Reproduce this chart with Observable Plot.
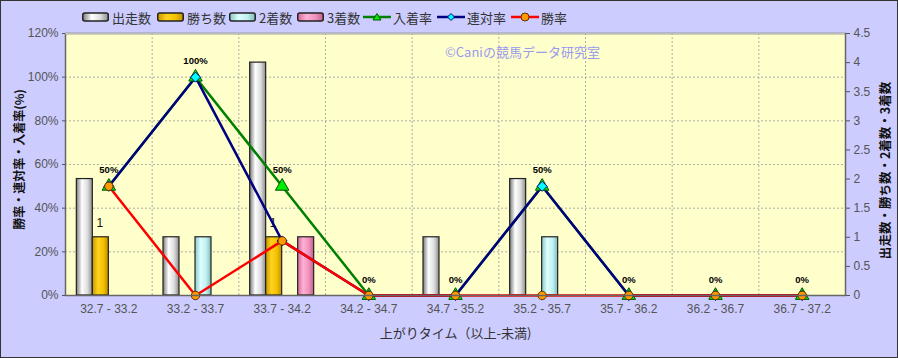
<!DOCTYPE html>
<html>
<head>
<meta charset="utf-8">
<script src="https://cdn.jsdelivr.net/npm/d3@7"></script>
<script src="https://cdn.jsdelivr.net/npm/@observablehq/plot@0.6"></script>
<style>
  html, body { margin: 0; padding: 0; background: #ccccff; }
  #wrap { position: relative; width: 898px; height: 358px; overflow: hidden;
          font-family: "Liberation Sans", "Noto Sans CJK JP", sans-serif; }
  #border { position: absolute; left: 0; top: 0; width: 896px; height: 356px;
            border: 1px solid #333; pointer-events: none; }
  #legend { position: absolute; left: 0; top: 7px; height: 20px; font-size: 13px; color: #333;
            font-family: "Noto Sans CJK JP", sans-serif; }
  .item { position: absolute; top: 0; white-space: nowrap; display: flex; align-items: center; height: 20px; }
  .item svg { margin-right: 2px; }
  #mark { position: absolute; left: 445px; top: 42px; font-size: 13px; color: #9a9aee;
          font-family: "Noto Sans CJK JP", sans-serif; white-space: nowrap; }
</style>
</head>
<body>
<div id="wrap">
  <div id="chart"></div>
  <div id="legend"></div>
  <div id="mark">©Caniの競馬データ研究室</div>
  <div id="border"></div>
</div>
<script>
// ---- data ----
const categories = ["32.7 - 33.2", "33.2 - 33.7", "33.7 - 34.2", "34.2 - 34.7", "34.7 - 35.2",
                    "35.2 - 35.7", "35.7 - 36.2", "36.2 - 36.7", "36.7 - 37.2"];
const runs    = [2, 1, 4, 0, 1, 2, 0, 0, 0];   // 出走数
const wins    = [1, 0, 1, 0, 0, 0, 0, 0, 0];   // 勝ち数
const seconds = [0, 1, 0, 0, 0, 1, 0, 0, 0];   // 2着数
const thirds  = [0, 0, 1, 0, 0, 0, 0, 0, 0];   // 3着数
const placeRate = [50, 100, 50, 0, 0, 50, 0, 0, 0]; // 入着率
const quinRate  = [50, 100, 25, 0, 0, 50, 0, 0, 0]; // 連対率
const winRate   = [50, 0, 25, 0, 0, 0, 0, 0, 0];    // 勝率
const leftTicks = [0, 20, 40, 60, 80, 100, 120];
const rightTicks = [0, 0.5, 1, 1.5, 2, 2.5, 3, 3.5, 4, 4.5];

// ---- build ----
const W = 898, H = 358;
const mL = 65, mR = 53, mT = 33, mB = 63;
const K = 120 / 4.5; // right-axis count -> left-axis percent
const bw = (W - mL - mR) / categories.length;
const barW = 16;

const series = [
  {name: "出走数", vals: runs, fill: "url(#gWhite)", off: -2},
  {name: "勝ち数", vals: wins, fill: "url(#gGold)", off: -1},
  {name: "2着数", vals: seconds, fill: "url(#gCyan)", off: 0},
  {name: "3着数", vals: thirds, fill: "url(#gPink)", off: 1}
];

const barMarks = series.map(s => {
  const data = categories.map((c, i) => ({c, v: s.vals[i]})).filter(d => d.v > 0);
  const left = bw / 2 + s.off * barW;
  return Plot.rectY(data, {
    x: "c", y: d => d.v * K,
    insetLeft: left, insetRight: bw - left - barW,
    fill: s.fill, stroke: "#222", strokeWidth: 1.2
  });
});

const rows = categories.map((c, i) => ({c, place: placeRate[i], quin: quinRate[i], win: winRate[i], w: wins[i]}));

const chart = Plot.plot({
  width: W, height: H,
  marginLeft: mL, marginRight: mR, marginTop: mT, marginBottom: mB,
  style: {background: "#ccccff", fontFamily: "'Liberation Sans', 'Noto Sans CJK JP', sans-serif", overflow: "visible"},
  x: {type: "band", domain: categories, padding: 0, round: false, axis: null},
  y: {domain: [0, 120], axis: null},
  marks: [
    Plot.frame({fill: "#ffffcc"}),
    Plot.gridY(leftTicks, {stroke: "#999", strokeOpacity: 1, strokeDasharray: "2,2", strokeWidth: 0.8}),
    Plot.ruleX(categories.slice(1), {x: d => d, dx: -bw / 2, stroke: "#999", strokeDasharray: "2,2", strokeWidth: 0.8}),
    ...barMarks,
    Plot.text(rows.filter(d => d.w > 0), {x: "c", y: d => d.w * K, text: d => String(d.w),
      dx: -9, dy: -14, fontSize: 12, fill: "#111"}),
    Plot.line(rows, {x: "c", y: "place", stroke: "#008000", strokeWidth: 2.5}),
    Plot.line(rows, {x: "c", y: "quin", stroke: "#000080", strokeWidth: 2.5}),
    Plot.line(rows, {x: "c", y: "win", stroke: "#ff0000", strokeWidth: 2.5}),
    Plot.dot(rows, {x: "c", y: "place", symbol: "triangle", r: 5, fill: "#00ee00", stroke: "#005500", strokeWidth: 1}),
    Plot.dot(rows, {x: "c", y: "quin", symbol: "diamond2", r: 4.5, fill: "#00ffff", stroke: "#000080", strokeWidth: 1}),
    Plot.dot(rows, {x: "c", y: "win", symbol: "circle", r: 4.2, fill: "#ff9900", stroke: "#663300", strokeWidth: 1}),
    Plot.text(rows, {x: "c", y: "place", text: d => d.place + "%", dy: -16, fontSize: 9.5, fontWeight: "bold", fill: "#000"}),
    Plot.frame({stroke: "#666", strokeWidth: 1.5}),
    Plot.ruleY([120], {stroke: "#bbb", strokeWidth: 1.5}),
    Plot.axisY(leftTicks, {anchor: "left", tickFormat: d => d + "%", tickSize: 3, tickPadding: 4,
      fontSize: 12, color: "#555", label: null}),
    Plot.axisY(rightTicks.map(v => v * K), {anchor: "right", tickFormat: d => d3.format("~g")(+(d / K).toFixed(2)),
      tickSize: 4, tickPadding: 4, fontSize: 12, color: "#555", label: null}),
    Plot.axisX({anchor: "bottom", tickSize: 0, tickPadding: 9, fontSize: 12, color: "#555", label: null}),
    Plot.text(["上がりタイム（以上-未満)"], {frameAnchor: "bottom", dy: 42, fontSize: 13, fill: "#333",
      fontFamily: "Noto Sans CJK JP"}),
    Plot.text(["勝率・連対率・入着率(%)"], {frameAnchor: "left", textAnchor: "middle", dx: -45, dy: -5, rotate: -90,
      fontSize: 12, fontWeight: "bold", fill: "#111", fontFamily: "Noto Sans CJK JP"}),
    Plot.text(["出走数・勝ち数・2着数・3着数"], {frameAnchor: "right", textAnchor: "middle", dx: 40, dy: 6, rotate: -90,
      fontSize: 12.5, fontWeight: "bold", fill: "#111", fontFamily: "Noto Sans CJK JP"})
  ]
});

const gradDefs = `
  <linearGradient id="gWhite" x1="0" x2="1" y1="0" y2="0">
    <stop offset="0" stop-color="#7a7a7a"/><stop offset="0.35" stop-color="#ffffff"/>
    <stop offset="0.7" stop-color="#dcdcdc"/><stop offset="1" stop-color="#8c8c8c"/></linearGradient>
  <linearGradient id="gGold" x1="0" x2="1" y1="0" y2="0">
    <stop offset="0" stop-color="#c89600"/><stop offset="0.35" stop-color="#ffd21e"/>
    <stop offset="0.7" stop-color="#f2c200"/><stop offset="1" stop-color="#c08a00"/></linearGradient>
  <linearGradient id="gCyan" x1="0" x2="1" y1="0" y2="0">
    <stop offset="0" stop-color="#8cc8c8"/><stop offset="0.35" stop-color="#ddffff"/>
    <stop offset="0.7" stop-color="#c0f0f0"/><stop offset="1" stop-color="#7fb8b8"/></linearGradient>
  <linearGradient id="gPink" x1="0" x2="1" y1="0" y2="0">
    <stop offset="0" stop-color="#d06c9c"/><stop offset="0.35" stop-color="#ffb0d4"/>
    <stop offset="0.7" stop-color="#f090bc"/><stop offset="1" stop-color="#c0608c"/></linearGradient>`;
d3.select(chart).insert("defs", ":first-child").html(gradDefs);
document.getElementById("chart").appendChild(chart);

// ---- legend ----
const legendItems = [
  {name: "出走数", type: "bar", fill: "url(#gWhite)", x: 82},
  {name: "勝ち数", type: "bar", fill: "url(#gGold)", x: 157},
  {name: "2着数", type: "bar", fill: "url(#gCyan)", x: 229},
  {name: "3着数", type: "bar", fill: "url(#gPink)", x: 297},
  {name: "入着率", type: "line", stroke: "#008000", sym: "tri", mfill: "#00ee00", mstroke: "#005500", x: 363},
  {name: "連対率", type: "line", stroke: "#000080", sym: "dia", mfill: "#00ffff", mstroke: "#000080", x: 437},
  {name: "勝率", type: "line", stroke: "#ff0000", sym: "cir", mfill: "#ff9900", mstroke: "#663300", x: 511}
];
const leg = d3.select("#legend");
legendItems.forEach(it => {
  const div = leg.append("div").attr("class", "item").style("left", it.x + "px");
  const s = div.append("svg").attr("width", 28).attr("height", 14);
  if (it.type === "bar") {
    s.append("rect").attr("x", 0.75).attr("y", 3).attr("width", 25.5).attr("height", 8).attr("rx", 2)
      .attr("fill", it.fill).attr("stroke", "#222").attr("stroke-width", 1.5);
  } else {
    s.append("line").attr("x1", 0).attr("x2", 28).attr("y1", 7).attr("y2", 7)
      .attr("stroke", it.stroke).attr("stroke-width", 2.5);
    let p;
    if (it.sym === "tri") p = s.append("path").attr("d", "M14,3.5L18,10H10Z");
    else if (it.sym === "dia") p = s.append("path").attr("d", "M14,3.5L17.5,7L14,10.5L10.5,7Z");
    else p = s.append("circle").attr("cx", 14).attr("cy", 7).attr("r", 4);
    p.attr("fill", it.mfill).attr("stroke", it.mstroke).attr("stroke-width", 1);
  }
  div.append("span").text(it.name);
});
</script>
</body>
</html>
